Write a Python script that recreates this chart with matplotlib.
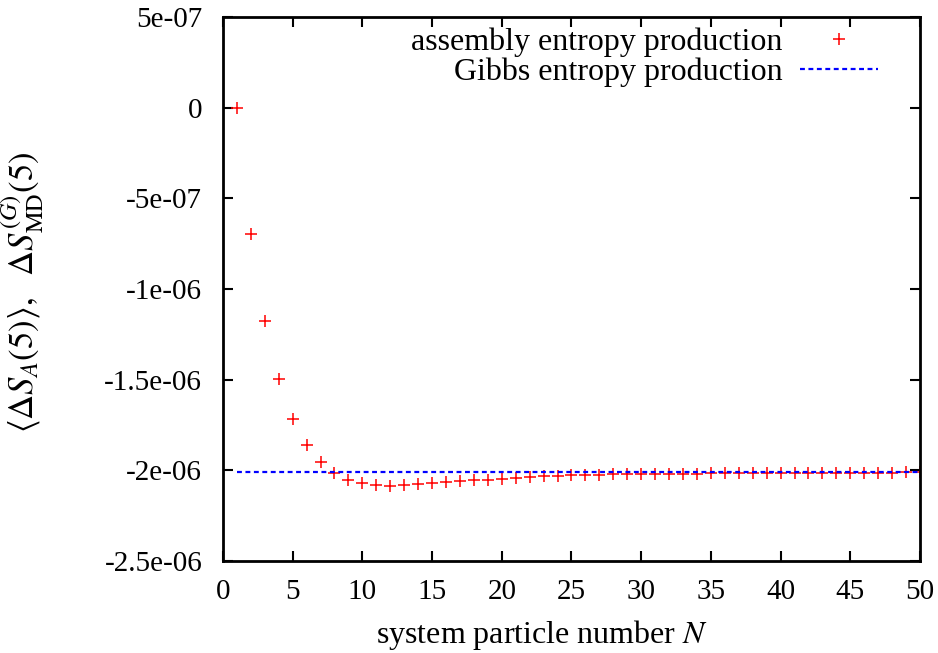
import numpy as np
import matplotlib
matplotlib.use('Agg')
import matplotlib.pyplot as plt
from matplotlib.ticker import FuncFormatter

# data
N = list(range(1, 51))
assembly = [0.0, -0.696e-6, -1.174e-6, -1.498e-6, -1.716e-6, -1.863e-6, -1.955e-6, -2.014e-6,
            -2.052e-6, -2.071e-6, -2.080e-6, -2.084e-6, -2.082e-6, -2.077e-6, -2.071e-6,
            -2.066e-6, -2.060e-6, -2.055e-6, -2.051e-6, -2.046e-6, -2.041e-6, -2.037e-6,
            -2.033e-6, -2.030e-6, -2.028e-6, -2.026e-6, -2.024e-6, -2.023e-6, -2.022e-6,
            -2.021e-6, -2.020e-6, -2.019e-6, -2.018e-6, -2.018e-6, -2.017e-6, -2.017e-6,
            -2.016e-6, -2.016e-6, -2.015e-6, -2.015e-6, -2.015e-6, -2.014e-6, -2.014e-6,
            -2.014e-6, -2.013e-6, -2.013e-6, -2.013e-6, -2.013e-6, -2.012e-6, -2.012e-6]
gibbs = -2.010e-6
yticks = [5e-7, 0, -5e-7, -1e-6, -1.5e-6, -2e-6, -2.5e-6]
ytick_labels = ['5e-07', '0', '-5e-07', '-1e-06', '-1.5e-06', '-2e-06', '-2.5e-06']

plt.rcParams['font.family'] = 'Liberation Serif'
plt.rcParams['mathtext.fontset'] = 'stix'

fig = plt.figure(figsize=(9.38, 6.53), dpi=100)
ax = fig.add_axes([0.2377, 0.1409, 0.7431, 0.8331])

ax.plot(N, assembly, linestyle='none', marker='+', color='red', markersize=8,
        markeredgewidth=1.1, label='assembly entropy production')
ax.plot([N[0], N[-1]], [gibbs, gibbs], color='blue', linestyle=(0, (2.2, 1.6)),
        linewidth=1.6, label='Gibbs entropy production')

ax.set_xlim(0, 50)
ax.set_ylim(-2.5e-6, 5e-7)
ax.set_xticks(range(0, 51, 5))
ax.set_yticks(yticks)
ax.yaxis.set_major_formatter(FuncFormatter(lambda v, p: ytick_labels[yticks.index(min(yticks, key=lambda t: abs(t - v)))]))

ax.tick_params(direction='in', top=True, right=True, length=7, width=1.5, labelsize=21)
ax.tick_params(axis='y', pad=15)
ax.tick_params(axis='x', pad=13)
for s in ax.spines.values():
    s.set_linewidth(2)

ax.set_xlabel('system particle number $N$', fontsize=23)
ax.xaxis.set_label_coords(0.458, -0.105)
ax.set_ylabel(r'$\langle\Delta S_A(5)\rangle,\ \ \Delta S^{(G)}_{\mathrm{MD}}(5)$', fontsize=25)
ax.yaxis.set_label_coords(-0.254, 0.495)

ax.legend(loc='upper right', frameon=False, markerfirst=False, fontsize=23,
          handlelength=2.45, handletextpad=0.55, borderaxespad=0.0, borderpad=0.0,
          labelspacing=0.0, bbox_to_anchor=(0.94, 0.98))

fig.savefig('out.png', dpi=100)
